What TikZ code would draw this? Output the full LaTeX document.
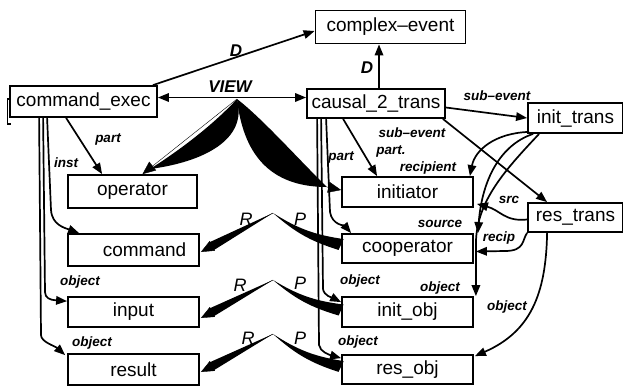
\documentclass[tikz,border=0pt]{standalone}
\usepackage{fontspec}
\setmainfont{Liberation Sans}
\usetikzlibrary{arrows.meta,calc}
\newcommand\tapr[4]{\fill (#1) to[bend right=#4] ($(#2)!#3!90:(#1)$) -- ($(#2)!#3!-90:(#1)$) to[bend left=#4] (#1);}
\begin{document}
\begin{tikzpicture}[x=1pt,y=-1pt,
  box/.style={draw, line width=1.8pt, inner sep=0pt, font=\fontsize{19}{22}\selectfont},
  conn/.style={line width=1.7pt, -{Triangle[length=11pt,width=8.5pt]}},
  dconn/.style={line width=1.7pt, {Triangle[length=11pt,width=8.5pt]}-{Triangle[length=11pt,width=8.5pt]}},
  head/.style={line width=0.4pt, -{Triangle[length=13pt,width=11pt]}},
  lab/.style={font=\fontsize{13.5}{16}\selectfont\bfseries\itshape, inner sep=1pt},
  biglab/.style={font=\fontsize{17}{20}\selectfont\bfseries\itshape, inner sep=1pt},
  rp/.style={font=\fontsize{18}{20}\selectfont\itshape, inner sep=1pt}
]
\useasboundingbox (0,0) rectangle (623,389);
\fill[white] (0,0) rectangle (623,389);

% boxes
\node[box, minimum width=150pt, minimum height=33pt] (cev) at (390.5,27) {complex–event};
\node[box, minimum width=147pt, minimum height=31pt] (cex) at (83.5,101.5) {command\_exec};
\node[box, minimum width=138pt, minimum height=29pt] (c2t) at (376,103.5) {causal\_2\_trans};
\node[box, minimum width=95pt, minimum height=30pt] (itr) at (575.5,118) {init\_trans};
\node[box, minimum width=95pt, minimum height=29pt] (rtr) at (575.5,217.5) {res\_trans};
\node[box, minimum width=129pt, minimum height=33pt] (opr) at (132.5,191.5) {operator};
\node[box, minimum width=131pt, minimum height=32pt] (cmd) at (133.5,250) {\hspace*{22pt}command};
\node[box, minimum width=131pt, minimum height=30pt] (inp) at (133.5,312) {input};
\node[box, minimum width=131pt, minimum height=31pt] (res) at (133.5,369.5) {result};
\node[box, minimum width=131pt, minimum height=30pt] (ini) at (407.5,192) {initiator};
\node[box, minimum width=131pt, minimum height=29pt] (coo) at (407.5,248.5) {cooperator};
\node[box, minimum width=131pt, minimum height=30pt] (iob) at (407.5,312) {init\_obj};
\node[box, minimum width=131pt, minimum height=29pt] (rob) at (407.5,369.5) {res\_obj};
\draw[line width=1.4pt] (10.5,99) -- (7.5,99) -- (7.5,124) -- (10.5,124);

% D and VIEW
\draw[conn] ($(cex.north east)+(-5,0)$) -- ($(cev.west)+(0,4)$);
\draw[conn] ($(c2t.north)+(3,0)$) -- ($(cev.south)+(-11.5,0)$);
\draw[dconn] ($(cex.east)+(0,-4)$) -- ($(c2t.west)+(0,-6)$);
\coordinate (va) at (237,99);

% VIEW wedges
\coordinate (vl) at (150,169);
\coordinate (vr) at (327,187);
\fill (va) .. controls (213,125) and (180,150) .. (vl) .. controls (203,162) and (248,140) .. (va);
\draw[head] (va) -- ($(opr.north)+(10,0)$);
\fill (va) .. controls (243,152) and (268,187) .. (vr) .. controls (302,163) and (262,118) .. (va);
\draw[head] (vr) -- ($(ini.west)+(0,-2)$);

% role maps R / P
\coordinate (a1) at (273,213);
\coordinate (a2) at (273,280);
\coordinate (a3) at (273,334);
\coordinate (t1) at ($(cmd.east)+(1,2)$);
\coordinate (t2) at ($(inp.east)+(1,6)$);
\coordinate (t3) at ($(res.east)+(1,2.5)$);
\coordinate (b1) at ($(t1)!12pt!(a1)$);
\coordinate (b2) at ($(t2)!12pt!(a2)$);
\coordinate (b3) at ($(t3)!12pt!(a3)$);
\tapr{a1}{b1}{4.5pt}{0}
\tapr{a2}{b2}{4.5pt}{0}
\tapr{a3}{b3}{4.5pt}{0}
\draw[head] (a1) -- (t1);
\draw[head] (a2) -- (t2);
\draw[head] (a3) -- (t3);
\coordinate (p1) at ($(coo.west)+(0,-4)$);
\coordinate (p2) at ($(iob.west)+(0,-2)$);
\coordinate (p3) at ($(rob.west)+(0,-3)$);
\tapr{a1}{p1}{6pt}{12}
\tapr{a2}{p2}{6pt}{12}
\tapr{a3}{p3}{6pt}{12}

% command_exec roles
\draw[conn] ($(cex.south west)+(57,0)$) -- ($(opr.north west)+(35,0)$);
\draw[conn] ($(cex.south west)+(38,0)$) -- (51,210) .. controls (52,225) and (65,228) .. ($(cmd.north west)+(12,0)$);
\draw[conn] ($(cex.south west)+(34,0)$) -- (45,292) .. controls (45,298) and (50,300) .. ($(inp.north west)+(0,5)$);
\draw[conn] ($(cex.south west)+(30,0)$) -- (41,335) .. controls (41,342) and (55,346) .. ($(res.north west)+(-2,2)$);

% causal_2_trans roles
\draw[conn] ($(c2t.east)+(0,4)$) -- (itr.west);
\draw[conn] ($(c2t.south east)+(-3,0)$) -- ($(rtr.north west)+(20,0)$);
\draw[conn] ($(c2t.south west)+(37,0)$) -- ($(ini.north west)+(36,0)$);
\draw[conn] ($(c2t.south west)+(20,0)$) -- (330,212) .. controls (332,225) and (345,226) .. ($(coo.north west)+(10,0)$);
\draw[conn] ($(c2t.south west)+(15,0)$) -- (323,289) .. controls (324,296) and (333,298) .. ($(iob.north west)+(0,6)$);
\draw[conn] ($(c2t.south west)+(11,0)$) -- (319,345) .. controls (320,352) and (330,355) .. ($(rob.north west)+(0,4)$);

% init_trans roles
\draw[conn] ($(itr.south west)+(2,-2)$) .. controls (495,133) and (475,150) .. ($(ini.north east)+(-4,0)$);
\draw[conn] ($(itr.south west)+(6,0)$) .. controls (500,145) and (482,180) .. ($(coo.north east)+(4,0)$);
\draw[conn] ($(itr.south west)+(12,0)$) .. controls (505,170) and (478,200) .. (476,240) -- ($(iob.north east)+(2,0)$);

% res_trans roles
\draw[conn] ($(rtr.west)+(0,2)$) .. controls (505,222) and (500,210) .. ($(ini.south east)+(3,-4)$);
\draw[conn] (rtr.south west) .. controls (522,240) and (525,251) .. (505,251) -- ($(coo.east)+(2,3)$);
\draw[conn] ($(rtr.south west)+(20,0)$) .. controls (546,295) and (530,332) .. ($(rob.north east)+(1,2)$);

% labels
\node[biglab] (lD1) at (236,51) {D};
\node[biglab] (lview) at (230,87) {VIEW};
\node[biglab] (lD2) at (367,68) {D};
\node[lab] (lpart1) at (108,139) {part};
\node[lab] (linst) at (66,163) {inst};
\node[lab] (lobj1) at (80,282) {object};
\node[lab] (lobj2) at (92,343) {object};
\node[lab] (lsub1) at (497,96) {sub–event};
\node[lab] (lsub2) at (412,133) {sub–event};
\node[lab] (lpart2) at (391,151) {part.};
\node[lab] (lpart3) at (341,157) {part};
\node[lab] (lrecip) at (428,168) {recipient};
\node[lab] (lsrc) at (509,200) {src};
\node[lab] (lsource) at (440,224) {source};
\node[lab] (lrecip2) at (499,238) {recip};
\node[lab] (lobj3) at (360,281) {object};
\node[lab] (lobj4) at (440,288) {object};
\node[lab] (lobj5) at (507,307) {object};
\node[lab] (lobj6) at (358,342) {object};
\node[rp] (r1) at (246,219) {R};
\node[rp] (pp1) at (300,219) {P};
\node[rp] (r2) at (240,285) {R};
\node[rp] (pp2) at (300,283) {P};
\node[rp] (r3) at (248,338) {R};
\node[rp] (pp3) at (300,338) {P};
\end{tikzpicture}
\end{document}
